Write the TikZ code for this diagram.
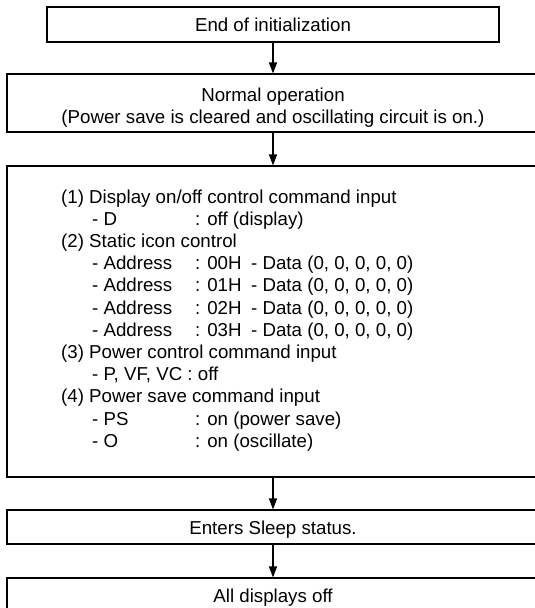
\documentclass[tikz,border=0pt]{standalone}
\usepackage{fontspec}
\setmainfont{Liberation Sans}
\usetikzlibrary{arrows.meta}
\begin{document}
\begin{tikzpicture}[x=1pt,y=-1pt,
  box/.style={draw=black,line width=1.1pt,inner sep=0pt,minimum width=532pt,minimum height=#1},
  lbl/.style={inner sep=0pt,anchor=base,font=\fontsize{18.7}{22.2}\selectfont},
  arr/.style={draw=black,line width=1.1pt,-{Triangle[length=11pt,width=8pt]}},
  sub/.style={}]
\clip (0,0) rectangle (535,608);
% boxes
\node[box=35pt,minimum width=452pt] (b1) at (273,24.5) {};
\node[box=58pt] (b2) at (273,103) {};
\node[box=311pt] (b3) at (273,321.5) {};
\node[box=34pt] (b4) at (273,527) {};
\node[box=35pt] (b5) at (273,595.5) {};
% texts
\node[lbl] (t1) at (273,31.8) {End of initialization};
\node[lbl] (t2) at (273,101) {\begin{tabular}[t]{@{}c@{}}Normal operation\\(Power save is cleared and oscillating circuit is on.)\end{tabular}};
\node[lbl,anchor=base west] (t3) at (61,203) {\begin{tabular}[t]{@{}l@{}}
(1) Display on/off control command input\\
\hspace{31pt}\makebox[103pt][l]{- D}: off (display)\\
(2) Static icon control\\
\hspace{31pt}\makebox[103pt][l]{- Address}\makebox[56pt][l]{: 00H}- Data (0, 0, 0, 0, 0)\\
\hspace{31pt}\makebox[103pt][l]{- Address}\makebox[56pt][l]{: 01H}- Data (0, 0, 0, 0, 0)\\
\hspace{31pt}\makebox[103pt][l]{- Address}\makebox[56pt][l]{: 02H}- Data (0, 0, 0, 0, 0)\\
\hspace{31pt}\makebox[103pt][l]{- Address}\makebox[56pt][l]{: 03H}- Data (0, 0, 0, 0, 0)\\
(3) Power control command input\\
\hspace{31pt}- P, VF, VC : off\\
(4) Power save command input\\
\hspace{31pt}\makebox[103pt][l]{- PS}: on (power save)\\
\hspace{31pt}\makebox[103pt][l]{- O}: on (oscillate)
\end{tabular}};
\node[lbl] (t4) at (273,534.5) {Enters Sleep status.};
\node[lbl] (t5) at (273,602) {All displays off};
% arrows
\draw[arr] (b1.south) -- (b2.north);
\draw[arr] (b2.south) -- (b3.north);
\draw[arr] (b3.south) -- (b4.north);
\draw[arr] (b4.south) -- (b5.north);
\end{tikzpicture}
\end{document}
